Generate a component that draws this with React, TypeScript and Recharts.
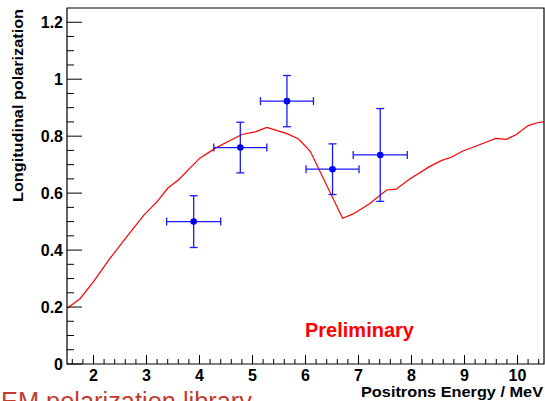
import { ComposedChart, Line, Scatter, ErrorBar, XAxis, YAxis, ReferenceArea } from "recharts";

// simulation curve (red line)
const curveEnergy = [
  1.5, 1.75, 2.0, 2.3, 2.6, 2.95, 3.2, 3.4, 3.6, 4.0, 4.3, 4.55, 4.8, 5.05, 5.27, 5.65, 5.87, 6.09, 6.7,
  6.9, 7.2, 7.53, 7.71, 7.96, 8.34, 8.56, 8.75, 8.97, 9.16, 9.38, 9.59, 9.79, 9.98, 10.2, 10.39, 10.5,
];
const curvePolarization = [
  0.195, 0.23, 0.289, 0.368, 0.44, 0.523, 0.57, 0.617, 0.646, 0.722, 0.758, 0.782, 0.806, 0.815, 0.831, 0.809,
  0.79, 0.747, 0.512, 0.527, 0.562, 0.611, 0.614, 0.649, 0.693, 0.714, 0.726, 0.748, 0.761, 0.777, 0.792, 0.789,
  0.806, 0.837, 0.848, 0.85,
];

// measured points
const pointEnergy = [3.89, 4.77, 5.65, 6.51, 7.41];
const pointPolarization = [0.5, 0.76, 0.923, 0.684, 0.734];
const energyErr = [0.51, 0.5, 0.5, 0.5, 0.51];
const polarizationErr = [0.091, 0.089, 0.09, 0.089, 0.163];

const xLabels = [2, 3, 4, 5, 6, 7, 8, 9, 10];
const yLabels = [0, 0.2, 0.4, 0.6, 0.8, 1, 1.2];

const W = 545;
const H = 401;
const LEFT = 67;
const RIGHT = 544;
const TOP = 8;
const BOTTOM = 364;
const FONT = "'Liberation Sans', Arial, Helvetica, sans-serif";

const curve = curveEnergy.map((x, i) => ({ x, y: curvePolarization[i] }));
const points = pointEnergy.map((x, i) => ({ x, y: pointPolarization[i], ex: energyErr[i], ey: polarizationErr[i] }));

const xTicks: number[] = [];
for (let i = 8; i <= 52; i++) xTicks.push(Math.round(i * 20) / 100);
const yTicks: number[] = [];
for (let i = 0; i <= 24; i++) yTicks.push(Math.round(i * 5) / 100);

const isMajorX = (v: number) => xLabels.some((l) => Math.abs(l - v) < 1e-6);
const isMajorY = (v: number) => yLabels.some((l) => Math.abs(l - v) < 1e-6);

function XTick(props: any) {
  const { x, payload } = props;
  const major = isMajorX(payload.value);
  return (
    <g>
      <line x1={x} x2={x} y1={BOTTOM} y2={BOTTOM - (major ? 9 : 5)} stroke="#000" />
      {major && (
        <text x={x} y={BOTTOM + 17} textAnchor="middle" fontFamily={FONT} fontWeight="bold" fontSize={16} fill="#000">
          {payload.value}
        </text>
      )}
    </g>
  );
}

function YTick(props: any) {
  const { y, payload } = props;
  const major = isMajorY(payload.value);
  return (
    <g>
      <line x1={LEFT} x2={LEFT + (major ? 15 : 7)} y1={y} y2={y} stroke="#000" />
      {major && (
        <text x={LEFT - 4} y={y} dy="0.36em" textAnchor="end" fontFamily={FONT} fontWeight="bold" fontSize={16} fill="#000">
          {payload.value}
        </text>
      )}
    </g>
  );
}

function YTickRight(props: any) {
  const { y, payload } = props;
  const major = isMajorY(payload.value);
  return <line x1={RIGHT} x2={RIGHT - (major ? 15 : 8)} y1={y} y2={y} stroke="#000" />;
}

export default function App() {
  return (
    <div style={{ position: "absolute", left: 0, top: 0, width: W, height: H, background: "#fff", overflow: "hidden" }}>
      <ComposedChart width={W} height={H} margin={{ top: TOP, right: 0, bottom: 0, left: 0 }}>
        <XAxis
          dataKey="x"
          type="number"
          domain={[1.5, 10.5]}
          ticks={xTicks}
          interval={0}
          height={H - BOTTOM}
          axisLine={false}
          tickLine={false}
          tick={<XTick />}
          allowDataOverflow
        />
        <YAxis
          type="number"
          domain={[0, 1.25]}
          ticks={yTicks}
          interval={0}
          width={LEFT}
          axisLine={false}
          tickLine={false}
          tick={<YTick />}
          allowDataOverflow
        />
        <YAxis
          yAxisId="r"
          orientation="right"
          type="number"
          domain={[0, 1.25]}
          ticks={yTicks}
          interval={0}
          width={W - RIGHT}
          axisLine={false}
          tickLine={false}
          tick={<YTickRight />}
        />
        <ReferenceArea x1={1.5} x2={10.5} y1={0} y2={1.25} fill="none" stroke="#000" strokeWidth={1.2} ifOverflow="visible" />
        <Line
          data={curve}
          dataKey="y"
          type="linear"
          stroke="#ff0000"
          strokeWidth={1.2}
          dot={false}
          activeDot={false}
          isAnimationActive={false}
        />
        <Scatter
          data={points}
          dataKey="y"
          fill="#0000ff"
          isAnimationActive={false}
          shape={(p: any) => <circle cx={p.cx} cy={p.cy} r={3.3} fill="#0000ff" />}
        >
          <ErrorBar dataKey="ex" direction="x" width={4} stroke="#1a1aff" strokeWidth={1.3} />
          <ErrorBar dataKey="ey" direction="y" width={4} stroke="#1a1aff" strokeWidth={1.3} />
        </Scatter>
      </ComposedChart>
      <svg width={W} height={H} style={{ position: "absolute", left: 0, top: 0, pointerEvents: "none" }}>
        <text
          transform={`translate(23,${TOP + 1}) rotate(-90)`}
          textAnchor="end"
          fontFamily={FONT}
          fontWeight="bold"
          fontSize={15}
          textLength={193}
          lengthAdjust="spacingAndGlyphs"
          fill="#000"
        >
          Longitudinal polarization
        </text>
        <text
          x={543}
          y={397}
          textAnchor="end"
          fontFamily={FONT}
          fontWeight="bold"
          fontSize={15}
          textLength={182}
          lengthAdjust="spacingAndGlyphs"
          fill="#000"
        >
          Positrons Energy / MeV
        </text>
        <text x={305} y={337} fontFamily={FONT} fontWeight="bold" fontSize={20} fill="#ff0000">
          Preliminary
        </text>
        <text x={1} y={410} fontFamily={FONT} fontSize={25} textLength={251} lengthAdjust="spacingAndGlyphs" fill="#c43b2e">
          EM polarization library
        </text>
      </svg>
    </div>
  );
}
